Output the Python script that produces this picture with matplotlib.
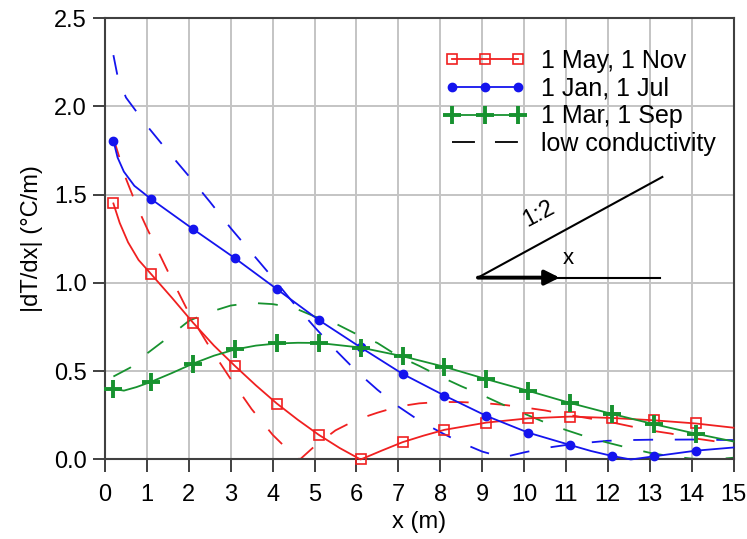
import matplotlib
matplotlib.use("Agg")
import matplotlib.pyplot as plt

plt.rcParams['font.family'] = ['Liberation Sans', 'DejaVu Sans']

# marker positions (x in m)
marker_x = [0.2, 1.1, 2.1, 3.1, 4.1, 5.1, 6.1, 7.1, 8.1, 9.1, 10.1, 11.1, 12.1, 13.1, 14.1]

# 1 May, 1 Nov (solid)
may_x = [0.2, 0.35, 0.55, 0.8, 1.1, 1.6, 2.1, 2.6, 3.1, 3.6, 4.1, 4.6, 5.1, 5.6, 6.1, 6.6,
         7.1, 7.6, 8.1, 9.1, 10.1, 11.1, 12.1, 13.1, 14.1, 15]
may_y = [1.45, 1.34, 1.23, 1.13, 1.05, 0.915, 0.775, 0.645, 0.53, 0.42, 0.317, 0.225, 0.14,
         0.065, 0.0, 0.05, 0.098, 0.135, 0.168, 0.209, 0.233, 0.243, 0.235, 0.222, 0.204, 0.18]

# 1 Jan, 1 Jul (solid)
jan_x = [0.2, 0.3, 0.45, 0.7, 1.1, 1.6, 2.1, 3.1, 4.1, 5.1, 6.1, 7.1, 8.1, 9.1, 10.1, 11.1,
         11.6, 12.1, 12.55, 13.1, 14.1, 15]
jan_y = [1.805, 1.71, 1.63, 1.55, 1.475, 1.39, 1.305, 1.14, 0.965, 0.79, 0.635, 0.485, 0.362,
         0.247, 0.152, 0.082, 0.048, 0.02, 0.0, 0.018, 0.05, 0.068]

# 1 Mar, 1 Sep (solid)
mar_x = [0.2, 0.45, 0.75, 1.1, 1.6, 2.1, 2.6, 3.1, 3.6, 4.1, 4.6, 5.1, 6.1, 7.1, 8.1, 9.1,
         10.1, 11.1, 12.1, 13.1, 14.1, 15]
mar_y = [0.40, 0.39, 0.41, 0.44, 0.49, 0.543, 0.588, 0.623, 0.645, 0.657, 0.661, 0.66, 0.634,
         0.585, 0.525, 0.455, 0.389, 0.32, 0.258, 0.2, 0.146, 0.102]

# low conductivity (dashed)
may_lc_x = [0.2, 0.5, 0.75, 1.0, 1.5, 2.0, 2.5, 3.0, 3.5, 4.0, 4.3, 4.65, 5.0, 5.5, 6.0, 6.5,
            7.0, 7.5, 8.0, 8.5, 9.0, 9.5, 10.0, 10.5, 11.0, 11.5, 12.0, 12.5, 13.0, 13.5,
            14.0, 14.5, 15.0]
may_lc_y = [1.82, 1.59, 1.44, 1.31, 1.065, 0.83, 0.635, 0.455, 0.285, 0.14, 0.07, 0.0, 0.075,
            0.165, 0.225, 0.265, 0.30, 0.318, 0.326, 0.325, 0.32, 0.31, 0.295, 0.278, 0.255,
            0.235, 0.215, 0.19, 0.165, 0.147, 0.122, 0.105, 0.087]

jan_lc_x = [0.2, 0.3, 0.5, 1.0, 1.5, 2.0, 2.5, 3.0, 3.5, 4.0, 4.5, 5.0, 5.5, 6.0, 6.5, 7.0,
            7.5, 8.0, 8.5, 9.0, 9.5, 10.0, 10.5, 11.0, 11.5, 12.0, 12.5, 13.0, 14.0, 15.0]
jan_lc_y = [2.29, 2.17, 2.05, 1.89, 1.745, 1.605, 1.46, 1.31, 1.17, 1.03, 0.885, 0.75, 0.62,
            0.50, 0.395, 0.30, 0.22, 0.155, 0.095, 0.045, 0.012, 0.04, 0.065, 0.082, 0.095,
            0.106, 0.11, 0.112, 0.113, 0.11]

mar_lc_x = [0.2, 0.6, 1.0, 1.5, 2.0, 2.5, 3.0, 3.5, 4.0, 4.5, 5.0, 5.5, 6.0, 6.5, 7.0, 7.5,
            8.0, 8.5, 9.0, 9.5, 10.0, 10.5, 11.0, 11.5, 12.0, 12.5, 13.0, 13.5, 14.0, 14.5, 15.0]
mar_lc_y = [0.47, 0.52, 0.60, 0.69, 0.785, 0.835, 0.872, 0.887, 0.88, 0.86, 0.81, 0.77, 0.71,
            0.66, 0.585, 0.53, 0.47, 0.415, 0.365, 0.31, 0.26, 0.21, 0.167, 0.128, 0.095,
            0.065, 0.038, 0.018, 0.005, 0.0, 0.01]

labels = ['1 May, 1 Nov', '1 Jan, 1 Jul', '1 Mar, 1 Sep', 'low conductivity']

# slope sketch (1:2 and x arrow)
tri_origin = (8.9, 1.03)
tri_slope_end = (13.3, 1.6)
tri_flat_end = 13.25
arrow_end = 10.85

red = '#f02020'
blue = '#1414ee'
green = '#17922f'
axcol = '#404040'
dash = (11, 12)


def marks(xs):
    return [i for i, v in enumerate(xs) if v in marker_x]


fig = plt.figure(figsize=(7.47, 5.39), dpi=100)
ax = fig.add_axes([0.1406, 0.1475, 0.8414, 0.819])

lw = 1.3
ax.plot(may_lc_x, may_lc_y, color=red, lw=lw, dashes=dash)
ax.plot(jan_lc_x, jan_lc_y, color=blue, lw=lw, dashes=dash)
ax.plot(mar_lc_x, mar_lc_y, color=green, lw=lw, dashes=dash)

l1, = ax.plot(may_x, may_y, color=red, lw=lw, marker='s', ms=7, mfc='none', mew=1.2,
              markevery=marks(may_x), clip_on=False, zorder=4)
l2, = ax.plot(jan_x, jan_y, color=blue, lw=lw, marker='o', ms=6,
              markevery=marks(jan_x), clip_on=False, zorder=4)
l3, = ax.plot(mar_x, mar_y, color=green, lw=lw, marker='+', ms=13, mew=2.8,
              markevery=marks(mar_x), clip_on=False, zorder=4)
l4, = ax.plot([], [], color='black', lw=lw, dashes=(12.7, 11.1))

# slope sketch
ax.plot([tri_origin[0], tri_slope_end[0]], [tri_origin[1], tri_slope_end[1]], color='black', lw=1.5)
ax.plot([tri_origin[0], tri_flat_end], [tri_origin[1], tri_origin[1]], color='black', lw=1.5)
ax.annotate('', xy=(arrow_end, tri_origin[1]), xytext=tri_origin,
            arrowprops=dict(arrowstyle='-|>', color='black', lw=2.8, mutation_scale=22,
                            shrinkA=0, shrinkB=0))
ax.text(10.35, 1.39, '1:2', fontsize=17, rotation=28, ha='center', va='center')
ax.text(11.05, 1.14, 'x', fontsize=16, ha='center', va='center')

ax.set_xlim(0, 15)
ax.set_ylim(0, 2.5)
ax.set_xticks(range(0, 16))
ax.set_yticks([0, 0.5, 1.0, 1.5, 2.0, 2.5])
ax.set_yticklabels(['0.0', '0.5', '1.0', '1.5', '2.0', '2.5'])
ax.grid(color='#c4c4c4', lw=1.4)
ax.set_axisbelow(True)
for s in ax.spines.values():
    s.set_color(axcol)
    s.set_linewidth(1.5)
ax.tick_params(direction='out', length=9, width=1.4, color=axcol, labelsize=17, pad=4)
ax.tick_params(axis='x', pad=9)

ax.set_xlabel('x (m)', fontsize=17, labelpad=3)
ax.set_ylabel('|dT/dx| (°C/m)', fontsize=17, labelpad=8)

ax.legend([l1, l2, l3, l4], labels, loc='upper left', bbox_to_anchor=(0.540, 0.93),
          frameon=False, fontsize=18, numpoints=3, handlelength=3.24, handletextpad=0.62,
          labelspacing=0.15, borderpad=0, borderaxespad=0)

fig.savefig('out.png', dpi=100)
